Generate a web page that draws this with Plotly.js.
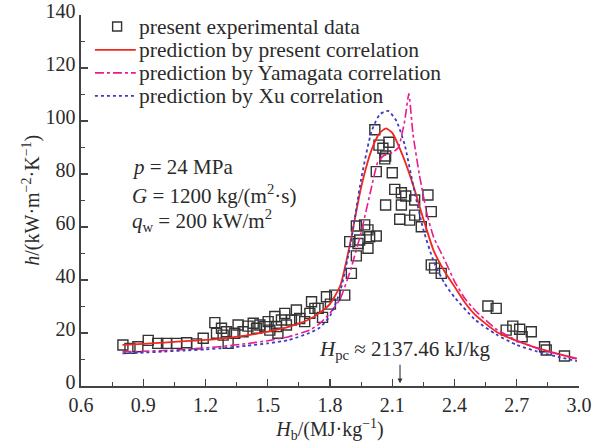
<!DOCTYPE html>
<html>
<head>
<meta charset="utf-8">
<script src="https://cdn.plot.ly/plotly-3.0.1.min.js"></script>
<style>html,body{margin:0;padding:0;background:#fff;}#chart{width:610px;height:445px;}</style>
</head>
<body>
<div id="chart"></div>
<script>
// Experimental data (Hb in MJ/kg, h in kW/(m2 K))
var expX = [0.802,0.836,0.874,0.924,0.970,1.012,1.061,1.109,1.157,1.189,1.245,1.253,1.277,1.285,1.301,1.309,1.341,1.357,1.381,1.405,1.430,1.446,1.462,1.486,1.502,1.510,1.534,1.542,1.549,1.566,1.582,1.590,1.614,1.638,1.654,1.678,1.703,1.711,1.727,1.743,1.764,1.783,1.802,1.823,1.871,1.903,1.927,1.895,1.935,1.927,1.943,1.967,1.983,1.991,1.983,2.023,2.016,2.036,2.055,2.084,2.023,2.064,2.068,2.100,2.068,2.112,2.144,2.165,2.144,2.136,2.184,2.208,2.208,2.240,2.272,2.288,2.288,2.304,2.336,2.561,2.601,2.649,2.681,2.714,2.726,2.770,2.834,2.842,2.930];
var expY = [15.5,14.2,14.8,17.2,16.1,16.1,16.1,16.3,15.9,18.0,23.9,19.9,21.8,19.2,20.5,16.1,19.9,23.0,20.5,22.6,23.7,21.8,23.0,22.4,24.3,21.1,26.2,22.4,19.9,24.9,27.4,23.0,24.9,28.7,25.5,24.3,27.4,31.8,29.3,29.3,25.9,33.7,30.9,34.3,34.3,42.5,49.1,54.5,53.8,60.4,55.1,60.8,58.9,56.3,52.0,56.6,96.7,90.9,89.7,92.0,80.9,85.7,86.8,80.5,68.3,74.2,72.9,71.7,68.3,62.9,62.6,70.2,64.5,60.1,72.1,65.8,45.7,44.5,42.5,30.2,29.3,21.1,22.6,21.4,18.6,20.5,14.8,13.6,11.3];

// Prediction by present correlation
var presX = [0.80,0.90,1.00,1.10,1.20,1.30,1.40,1.50,1.60,1.70,1.75,1.80,1.85,1.90,1.95,2.00,2.04,2.07,2.10,2.15,2.20,2.25,2.30,2.35,2.40,2.45,2.50,2.60,2.70,2.80,2.90,2.99];
var presY = [15.5,15.9,16.4,16.9,17.4,18.1,19.1,20.5,22.3,25.2,27.6,31.0,38.0,55.0,75.0,89.0,95.5,97.2,95.5,87.0,76.0,63.0,51.0,43.5,37.5,31.5,26.8,20.6,17.0,14.3,12.1,10.3];

// Prediction by Yamagata correlation
var yamaX = [0.80,0.90,1.00,1.10,1.20,1.30,1.40,1.50,1.60,1.70,1.75,1.80,1.85,1.90,1.95,2.00,2.03,2.06,2.10,2.13,2.16,2.18,2.20,2.23,2.27,2.30,2.35,2.40,2.45,2.50,2.60,2.70,2.80,2.90,2.99];
var yamaY = [12.9,13.1,13.4,13.8,14.4,15.1,16.0,17.1,18.6,21.0,23.5,27.5,33.0,44.0,58.0,75.0,84.5,87.0,88.0,90.0,100.0,110.4,95.0,80.0,64.0,56.0,48.0,39.5,33.0,28.5,21.5,17.2,14.2,12.0,10.2];

// Prediction by Xu correlation
var xuX = [0.80,0.90,1.00,1.10,1.20,1.30,1.40,1.50,1.60,1.70,1.75,1.80,1.85,1.90,1.95,2.00,2.04,2.08,2.12,2.16,2.20,2.25,2.30,2.35,2.40,2.50,2.60,2.70,2.80,2.90,2.99];
var xuY = [12.3,12.6,13.0,13.4,13.8,14.4,15.2,16.1,17.3,20.0,22.0,26.5,36.0,54.0,78.0,96.0,102.5,103.8,100.0,91.0,76.0,59.0,47.0,39.0,33.5,25.0,19.5,15.5,13.0,11.0,9.4];

// Axis ticks
var xTicks = [0.6,0.9,1.2,1.5,1.8,2.1,2.4,2.7,3.0];
var xTickText = ["0.6","0.9","1.2","1.5","1.8","2.1","2.4","2.7","3.0"];
var yTicks = [0,20,40,60,80,100,120,140];

// Series names (legend)
var seriesNames = ["present experimental data","prediction by present correlation","prediction by Yamagata correlation","prediction by Xu correlation"];

var Hpc = 2.13746;

var serif = "Liberation Serif, Times New Roman, serif";
var ink = "#2b2b2b";
var fs = 20;

var colPres = "#f0281e", colYama = "#ec1a8c", colXu = "#3c3cc8", colExp = "#333333";

var traces = [
  {x: expX, y: expY, mode: "markers", type: "scatter", name: seriesNames[0],
   marker: {symbol: "square-open", size: 10, color: colExp, line: {width: 1.4, color: colExp}}},
  {x: presX, y: presY, mode: "lines", type: "scatter", name: seriesNames[1],
   line: {color: colPres, width: 1.8, shape: "spline", smoothing: 0.6}},
  {x: yamaX, y: yamaY, mode: "lines", type: "scatter", name: seriesNames[2],
   line: {color: colYama, width: 1.6, dash: "dashdot", shape: "spline", smoothing: 0.4}},
  {x: xuX, y: xuY, mode: "lines", type: "scatter", name: seriesNames[3],
   line: {color: colXu, width: 1.8, dash: "dot", shape: "spline", smoothing: 0.6}}
];

// Legend drawn as keys + labels (compact row spacing like the original)
var legRows = [0.969, 0.906, 0.844, 0.782];
var legKeyX0 = 0.028, legKeyX1 = 0.110, legTextX = 0.113;
var shapes = [
  {type: "rect", xref: "paper", yref: "paper", x0: 0.0635, x1: 0.0815, y0: legRows[0] - 0.0121, y1: legRows[0] + 0.0121,
   line: {color: colExp, width: 1.4}, fillcolor: "rgba(0,0,0,0)"},
  {type: "line", xref: "paper", yref: "paper", x0: legKeyX0, x1: legKeyX1, y0: legRows[1], y1: legRows[1],
   line: {color: colPres, width: 1.8}},
  {type: "line", xref: "paper", yref: "paper", x0: legKeyX0, x1: legKeyX1, y0: legRows[2], y1: legRows[2],
   line: {color: colYama, width: 1.6, dash: "dashdot"}},
  {type: "line", xref: "paper", yref: "paper", x0: legKeyX0, x1: legKeyX1, y0: legRows[3], y1: legRows[3],
   line: {color: colXu, width: 1.8, dash: "dot"}}
];

var annotations = [];
for (var i = 0; i < seriesNames.length; i++) {
  annotations.push({xref: "paper", yref: "paper", x: legTextX, y: legRows[i], xanchor: "left", yanchor: "middle",
    showarrow: false, text: seriesNames[i], font: {family: serif, size: 21.5, color: ink}});
}
annotations = annotations.concat([
  {xref: "paper", yref: "paper", x: 0.098, y: 0.591, xanchor: "left", yanchor: "middle", showarrow: false,
   text: "<i>p</i> = 24 MPa", font: {family: serif, size: 21, color: ink}},
  {xref: "paper", yref: "paper", x: 0.098, y: 0.517, xanchor: "left", yanchor: "middle", showarrow: false,
   text: "<i>G</i> = 1200 kg/(m<sup>2</sup>·s)", font: {family: serif, size: 21, color: ink}},
  {xref: "paper", yref: "paper", x: 0.098, y: 0.447, xanchor: "left", yanchor: "middle", showarrow: false,
   text: "<i>q</i><sub>w</sub> = 200 kW/m<sup>2</sup>", font: {family: serif, size: 21, color: ink}},
  {xref: "x", yref: "y", x: 2.16, y: 13.6, xanchor: "center", yanchor: "middle", showarrow: false,
   text: "<i>H</i><sub>pc</sub> ≈ 2137.46 kJ/kg", font: {family: serif, size: 21, color: ink}},
  {xref: "x", yref: "y", x: Hpc, y: 1.0, ax: 0, ay: -20, showarrow: true, arrowhead: 2, arrowsize: 0.9,
   arrowwidth: 1.1, arrowcolor: "#333", text: ""},
  // y-axis title
  {xref: "paper", yref: "paper", x: -0.100, y: 0.5, xanchor: "center", yanchor: "middle", showarrow: false,
   textangle: -90, text: "<i>h</i>/(kW·m<sup>−2</sup>·K<sup>−1</sup>)", font: {family: serif, size: fs, color: ink}}
]);

var layout = {
  width: 610, height: 445,
  margin: {l: 81, r: 31, t: 15, b: 59},
  paper_bgcolor: "#ffffff", plot_bgcolor: "#ffffff",
  font: {family: serif, size: fs, color: ink},
  showlegend: false,
  xaxis: {range: [0.6, 3.0], tickvals: xTicks, ticktext: xTickText, ticks: "inside", ticklen: 7, tickwidth: 1.4,
          tickcolor: "#444", showline: true, linecolor: "#444", linewidth: 1.6, showgrid: false, zeroline: false,
          minor: {dtick: 0.15, ticks: "inside", ticklen: 4, tickwidth: 1.2, tickcolor: "#444", showgrid: false},
          tickfont: {family: serif, size: fs, color: ink},
          title: {text: "<i>H</i><sub>b</sub>/(MJ·kg<sup>−1</sup>)", font: {family: serif, size: fs, color: ink}, standoff: 2}},
  yaxis: {range: [0, 140], tickvals: yTicks, ticks: "inside", ticklen: 7, tickwidth: 1.4,
          tickcolor: "#444", showline: true, linecolor: "#444", linewidth: 1.6, showgrid: false, zeroline: false,
          minor: {dtick: 10, ticks: "inside", ticklen: 4, tickwidth: 1.2, tickcolor: "#444", showgrid: false},
          tickfont: {family: serif, size: fs, color: ink}, ticklabelshift: -4},
  shapes: shapes,
  annotations: annotations
};

Plotly.newPlot("chart", traces, layout, {displayModeBar: false, staticPlot: true});
</script>
</body>
</html>
